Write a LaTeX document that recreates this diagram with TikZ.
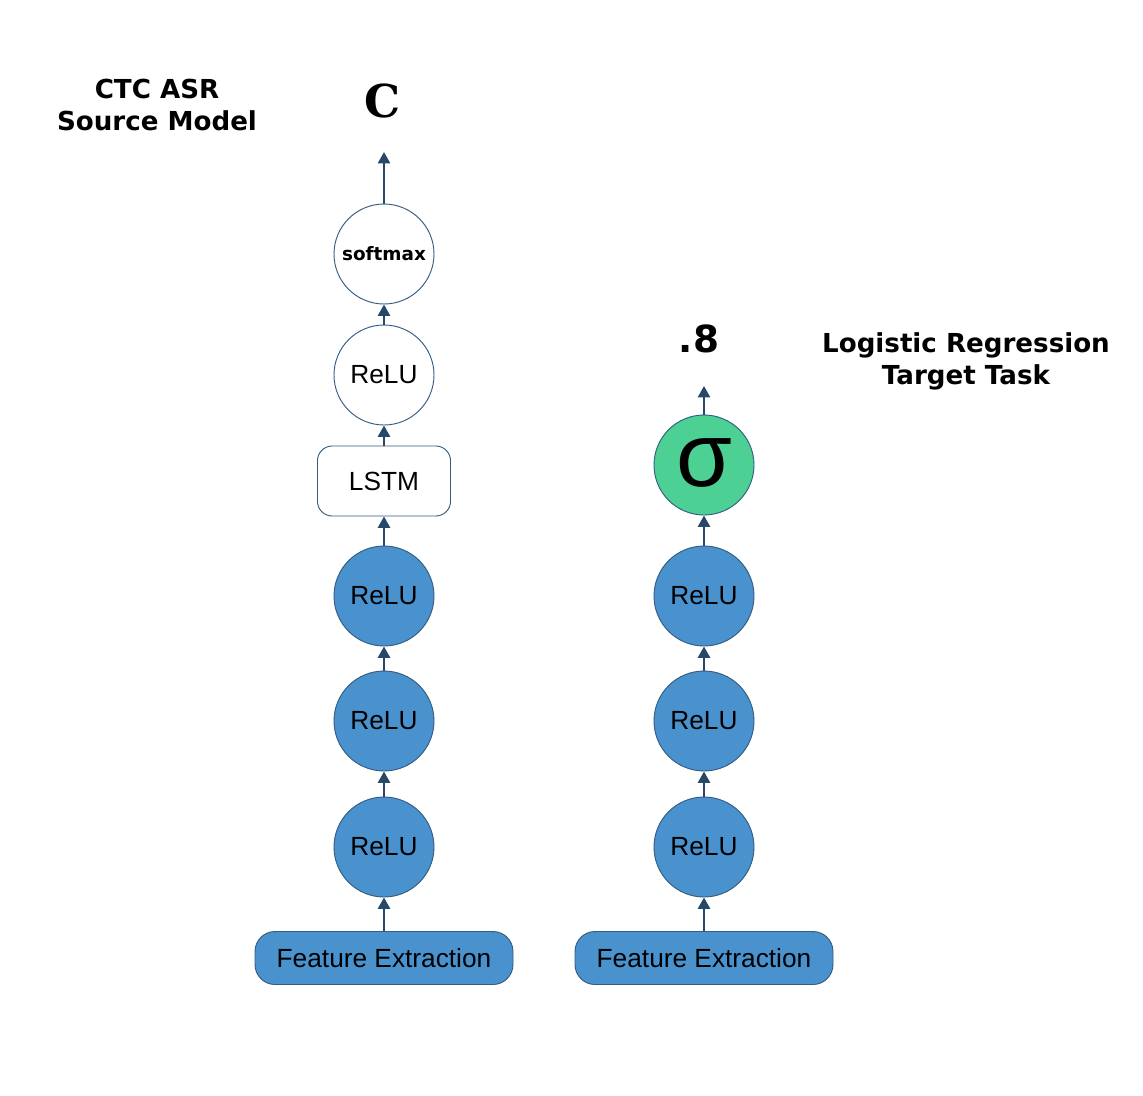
\documentclass[tikz,border=0pt]{standalone}
\usepackage{fontspec}
\setmainfont{Liberation Sans}
\newfontfamily\djbold{DejaVu Sans Bold}
\newfontfamily\djserif{DejaVu Serif Bold}
\usetikzlibrary{arrows.meta}
\definecolor{nblue}{RGB}{74,146,206}
\definecolor{nedge}{RGB}{52,92,130}
\definecolor{arr}{RGB}{38,72,106}
\definecolor{ngreen}{RGB}{76,208,148}
\tikzset{
  unit/.style={circle, minimum size=75pt, inner sep=0pt, draw=nedge, line width=0.7pt, font=\fontsize{19.7}{22}\selectfont},
  blueunit/.style={unit, fill=nblue},
  whiteunit/.style={unit, fill=white},
  featbox/.style={rectangle, rounded corners=15pt, minimum width=193.5pt, minimum height=39.75pt, inner sep=0pt, draw=nedge, line width=0.7pt, fill=nblue, font=\fontsize{19.7}{22}\selectfont},
  lstmbox/.style={rectangle, rounded corners=11pt, minimum width=99.75pt, minimum height=52.5pt, inner sep=0pt, draw=nedge, line width=0.7pt, fill=white, font=\fontsize{19.7}{22}\selectfont},
  conn/.style={draw=arr, line width=1.8pt, -{Triangle[length=8.5pt,width=9pt]}},
  title/.style={align=center, font=\djbold\fontsize{19.6}{24}\selectfont},
}
\begin{document}
\begin{tikzpicture}[x=0.75pt,y=-0.75pt]
\useasboundingbox (0,0) rectangle (1143,1096);
% left column
\node[featbox] (fe1) at (384,958) {Feature Extraction};
\node[blueunit] (l1) at (384,847) {ReLU};
\node[blueunit] (l2) at (384,721) {ReLU};
\node[blueunit] (l3) at (384,596) {ReLU};
\node[lstmbox] (lstm) at (384,481) {LSTM};
\node[whiteunit] (l4) at (384,375) {ReLU};
\node[whiteunit, font=\djbold\fontsize{13.8}{16}\selectfont] (sm) at (384,254) {softmax};
\coordinate (smout) at (384,152);
\node[font=\djserif\fontsize{34}{40}\selectfont] (cout) at (383,101) {C};
\node[title] (ltitle) at (157,105) {CTC ASR\\Source Model};
\draw[conn] (fe1) -- (l1);
\draw[conn] (l1) -- (l2);
\draw[conn] (l2) -- (l3);
\draw[conn] (l3) -- (lstm);
\draw[conn] (lstm) -- (l4);
\draw[conn] (l4) -- (sm);
\draw[conn] (sm) -- (smout);
% right column
\node[featbox] (fe2) at (704,958) {Feature Extraction};
\node[blueunit] (r1) at (704,847) {ReLU};
\node[blueunit] (r2) at (704,721) {ReLU};
\node[blueunit] (r3) at (704,596) {ReLU};
\node[unit, fill=ngreen, font=\fontsize{68}{68}\selectfont] (sig) at (704,465) {\raisebox{4pt}{σ}};
\coordinate (sigout) at (704,386);
\node[font=\djbold\fontsize{28}{32}\selectfont] (pout) at (699,339) {.8};
\node[title] (rtitle) at (966,361) {Logistic Regression\\Target Task};
\draw[conn] (fe2) -- (r1);
\draw[conn] (r1) -- (r2);
\draw[conn] (r2) -- (r3);
\draw[conn] (r3) -- (sig);
\draw[conn] (sig) -- (sigout);
\end{tikzpicture}
\end{document}
